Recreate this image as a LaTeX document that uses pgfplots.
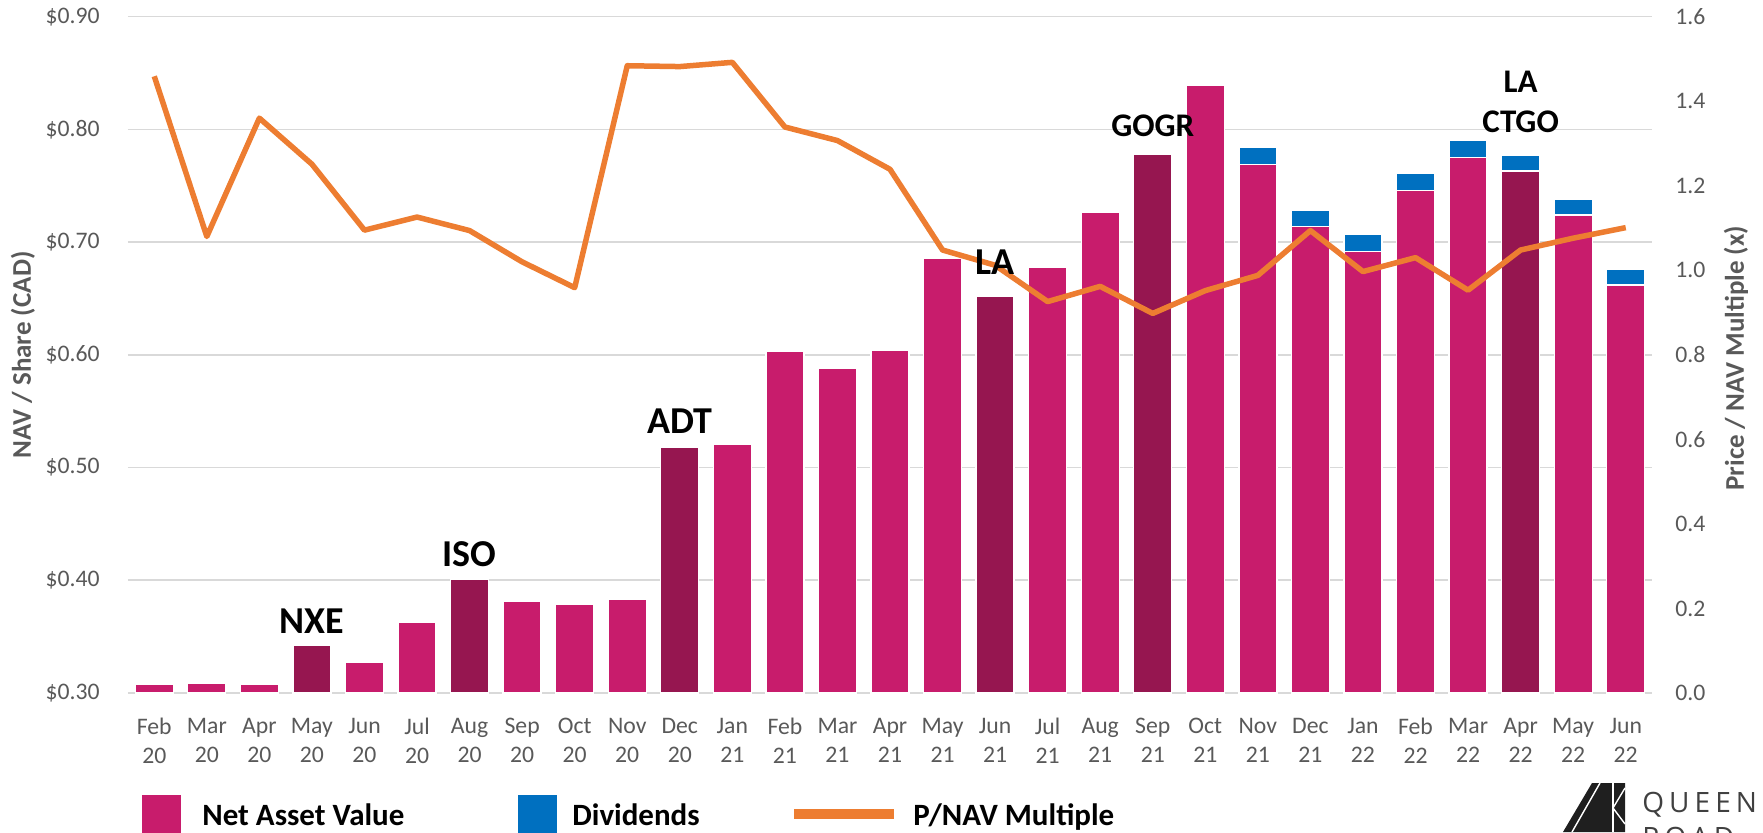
\documentclass[border=0pt]{standalone}
\usepackage{pgfplots}
\pgfplotsset{compat=1.18}
\usepackage{fontspec}
\setmainfont{Carlito}
\newfontfamily\logofont[LetterSpace=18]{Open Sans}
\definecolor{navc}{RGB}{200,28,108}
\definecolor{darkc}{RGB}{150,22,80}
\definecolor{divc}{RGB}{0,112,192}
\definecolor{linec}{RGB}{237,125,49}
\definecolor{gridc}{RGB}{217,217,217}
\definecolor{tickc}{RGB}{89,89,89}
\begin{document}
\begin{tikzpicture}
\useasboundingbox (0,0) rectangle (881.5pt,416pt);
\begin{scope}
\clip (0,0) rectangle (881.5pt,416pt);
% ---------- left axis: bars ----------
\begin{axis}[
  at={(64pt,69.5pt)}, anchor=south west,
  width=762pt, height=338.15pt, scale only axis,
  xmin=-0.5, xmax=28.5, ymin=0.3, ymax=0.9,
  xtick={0,...,28},
  xticklabels={{Feb\\20},{Mar\\20},{Apr\\20},{May\\20},{Jun\\20},{Jul\\20},{Aug\\20},{Sep\\20},{Oct\\20},{Nov\\20},{Dec\\20},{Jan\\21},{Feb\\21},{Mar\\21},{Apr\\21},{May\\21},{Jun\\21},{Jul\\21},{Aug\\21},{Sep\\21},{Oct\\21},{Nov\\21},{Dec\\21},{Jan\\22},{Feb\\22},{Mar\\22},{Apr\\22},{May\\22},{Jun\\22}},
  ytick={0.3,0.4,0.5,0.6,0.7,0.8,0.9},
  yticklabels={\$0.30,\$0.40,\$0.50,\$0.60,\$0.70,\$0.80,\$0.90},
  ymajorgrids, major grid style={draw=gridc, line width=0.8pt},
  axis line style={draw=none},
  tick style={draw=none},
  xtick pos=bottom, ytick pos=left,
  xticklabel style={font=\fontsize{11.85}{14.8}\selectfont, text=tickc, align=center, anchor=north, inner sep=0pt, yshift=-8pt},
  yticklabel style={font=\fontsize{11.85}{14}\selectfont, text=tickc, anchor=east, inner sep=0pt, xshift=-14pt},
  ylabel={NAV / Share (CAD)},
  ylabel style={font=\bfseries\fontsize{13.5}{15}\selectfont, text=tickc, at={(axis description cs:-0.0689,0.5)}, anchor=center},
  ybar, bar width=19pt,
]
% NAV + dividend (blue part visible above NAV)
\addplot[fill=divc, draw=white, line width=0.65pt, bar shift=0pt] coordinates {
(21,0.784) (22,0.728) (23,0.707) (24,0.761) (25,0.790) (26,0.777) (27,0.738) (28,0.676)};
% Net asset value
\addplot[fill=navc, draw=white, line width=0.65pt, bar shift=0pt] coordinates {
(0,0.308) (1,0.309) (2,0.308) (4,0.327) (5,0.363) (7,0.381) (8,0.379) (9,0.383)
(11,0.521) (12,0.603) (13,0.588) (14,0.604) (15,0.686) (17,0.678) (18,0.726)
(20,0.839) (21,0.769) (22,0.714) (23,0.692) (24,0.746) (25,0.775) (27,0.724) (28,0.662)};
% Net asset value, months with a new investment
\addplot[fill=darkc, draw=white, line width=0.65pt, bar shift=0pt] coordinates {
(3,0.342) (6,0.401) (10,0.518) (16,0.652) (19,0.778) (26,0.763)};
\end{axis}
% ---------- right axis: P/NAV ----------
\begin{axis}[
  at={(64pt,69.5pt)}, anchor=south west,
  width=762pt, height=338.15pt, scale only axis,
  xmin=-0.5, xmax=28.5, ymin=0, ymax=1.6,
  xtick=\empty,
  ytick={0,0.2,0.4,0.6,0.8,1.0,1.2,1.4,1.6},
  yticklabels={0.0,0.2,0.4,0.6,0.8,1.0,1.2,1.4,1.6},
  axis line style={draw=none}, tick style={draw=none},
  ytick pos=right,
  yticklabel style={font=\fontsize{11.85}{14}\selectfont, text=tickc, anchor=west, inner sep=0pt, xshift=11.5pt},
  ylabel={Price / NAV Multiple (x)},
  ylabel style={font=\bfseries\fontsize{13.5}{15}\selectfont, text=tickc, at={(axis description cs:1.0551,0.495)}, anchor=center},
  clip=false,
]
\addplot[linec, line width=2.75pt, line join=round, mark=none] coordinates {
(0,1.459) (1,1.080) (2,1.360) (3,1.251) (4,1.095) (5,1.126) (6,1.094) (7,1.020)
(8,0.959) (9,1.484) (10,1.482) (11,1.492) (12,1.339) (13,1.307) (14,1.239)
(15,1.048) (16,1.012) (17,0.926) (18,0.962) (19,0.898) (20,0.952) (21,0.988)
(22,1.094) (23,0.997) (24,1.030) (25,0.953) (26,1.048) (27,1.076) (28,1.101)};
\end{axis}
% ---------- annotations ----------
\begin{axis}[
  at={(64pt,69.5pt)}, anchor=south west,
  width=762pt, height=338.15pt, scale only axis,
  xmin=-0.5, xmax=28.5, ymin=0.3, ymax=0.9, hide axis, clip=false,
]
\node[font=\bfseries\fontsize{19}{19}\selectfont, anchor=base] at (axis cs:3,0.353) {NXE};
\node[font=\bfseries\fontsize{19}{19}\selectfont, anchor=base] at (axis cs:6,0.412) {ISO};
\node[font=\bfseries\fontsize{19}{19}\selectfont, anchor=base] at (axis cs:10,0.530) {ADT};
\node[font=\bfseries\fontsize{19}{19}\selectfont, anchor=base] at (axis cs:16,0.671) {LA};
\node[font=\bfseries\fontsize{16.5}{16.5}\selectfont, anchor=base] at (axis cs:19,0.7934) {GOGR};
\node[font=\bfseries\fontsize{16.5}{16.5}\selectfont, anchor=base] at (axis cs:26,0.797) {CTGO};
\node[font=\bfseries\fontsize{16.5}{16.5}\selectfont, anchor=base] at (axis cs:26,0.833) {LA};
\end{axis}
% ---------- legend ----------
\fill[navc] (71pt,-2pt) rectangle (90.5pt,18.5pt);
\node[anchor=base west, inner sep=0pt, font=\bfseries\fontsize{15.5}{15.5}\selectfont] at (101pt,3.5pt) {Net Asset Value};
\fill[divc] (259pt,-2pt) rectangle (278.5pt,18.5pt);
\node[anchor=base west, inner sep=0pt, font=\bfseries\fontsize{15.5}{15.5}\selectfont] at (286pt,3.5pt) {Dividends};
\draw[linec, line width=5pt] (397pt,9.25pt) -- (447pt,9.25pt);
\node[anchor=base west, inner sep=0pt, font=\bfseries\fontsize{15.5}{15.5}\selectfont] at (456.5pt,3.5pt) {P/NAV Multiple};
% ---------- logo ----------
\fill[black!88] (781.5pt,0pt) -- (796pt,24.5pt) -- (812.5pt,24.5pt) -- (812.5pt,0pt) -- cycle;
\draw[white, line width=0.7pt] (800pt,24.5pt) -- (786pt,0pt);
\draw[white, line width=0.7pt] (806.5pt,24.5pt) -- (806.5pt,0pt);
\draw[white, line width=0.7pt] (806.5pt,12pt) -- (812.5pt,22pt);
\draw[white, line width=0.7pt] (806.5pt,12pt) -- (812.5pt,4pt);
\node[anchor=base west, inner sep=0pt, text=black!75, font=\logofont\fontsize{14}{14}\selectfont] at (821pt,10pt) {QUEENS};
\node[anchor=base west, inner sep=0pt, text=black!75, font=\logofont\fontsize{14}{14}\selectfont] at (821pt,-7.5pt) {ROAD};
\end{scope}
\end{tikzpicture}
\end{document}
